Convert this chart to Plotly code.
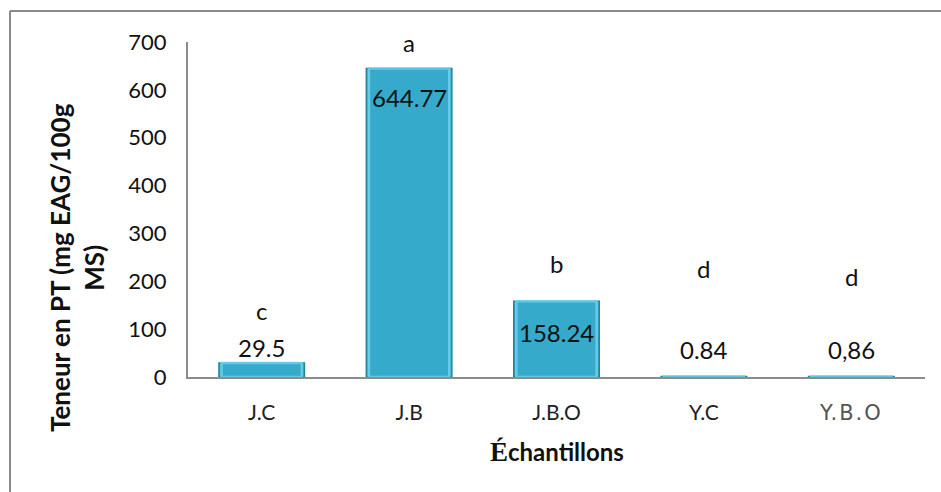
import plotly.graph_objects as go

# Phenolic content per sample
samples = ["J.C", "J.B", "J.B.O", "Y.C", "Y.B.O"]
values = [29.5, 644.77, 158.24, 0.84, 0.86]
value_labels = ["29.5", "644.77", "158.24", "0.84", "0,86"]
letters = ["c", "a", "b", "d", "d"]
letter_y = [138, 698, 238, 226, 211]
value_label_y = [61, 585, 92, 58, 58]
y_ticks = [0, 100, 200, 300, 400, 500, 600, 700]
tick_text = ["J.C", "J.B", "J.B.O", "Y.C",
             "<span style='font-family:DejaVu Sans;color:#555;"
             "letter-spacing:2px'>Y.B.O</span>"]

W, H = 941, 492
# plot area in pixels
PX0, PX1, PY0, PY1 = 188, 925, 42, 377


def px(x):
    return x / W


def py(y):
    return 1 - y / H


fig = go.Figure()
fig.add_trace(go.Bar(
    x=samples, y=values,
    marker=dict(color="#36AACA", line=dict(color="#27829E", width=1.5)),
    width=0.58,
    hoverinfo="x+y",
))
# lighter bevel highlight inside each bar
fig.add_trace(go.Bar(
    x=samples, y=values,
    marker=dict(color="rgba(0,0,0,0)", line=dict(color="rgba(110,210,236,0.85)", width=2.5)),
    width=0.545,
    hoverinfo="skip",
))

annotations = []
for s, t, yy in zip(samples, letters, letter_y):
    annotations.append(dict(x=s, y=yy, text=t, showarrow=False, xref="x", yref="y",
                            font=dict(family="Lato", size=24, color="#111")))
for s, t, yy in zip(samples, value_labels, value_label_y):
    annotations.append(dict(x=s, y=yy, text=t, showarrow=False, xref="x", yref="y",
                            font=dict(family="Lato", size=24, color="#111")))

# y-axis title
annotations.append(dict(
    x=px(77), y=py(268), xref="paper", yref="paper", xanchor="center", yanchor="middle",
    text="<b>Teneur en PT (mg EAG/100g<br>MS)</b>", textangle=-90, showarrow=False,
    font=dict(family="Lato", size=26, color="#111"), align="center",
))
# x-axis title
annotations.append(dict(
    x=px(557), y=py(452), xref="paper", yref="paper", xanchor="center", yanchor="middle",
    text="<span style='font-family:Liberation Serif;font-size:27px'>É</span>chantillons",
    showarrow=False, font=dict(family="Lato", size=24, color="#111", weight="bold"),
))

shapes = [
    # outer frame (top and left edges)
    dict(type="line", xref="paper", yref="paper", x0=px(10), x1=1.01,
         y0=py(11), y1=py(11), line=dict(color="#8A8A8A", width=2)),
    dict(type="line", xref="paper", yref="paper", x0=px(10), x1=px(10),
         y0=py(11), y1=-0.01, line=dict(color="#8A8A8A", width=2)),
]

fig.update_layout(
    width=W, height=H,
    margin=dict(l=0, r=0, t=0, b=0, autoexpand=False),
    paper_bgcolor="white", plot_bgcolor="white",
    showlegend=False, barmode="overlay", bargap=0.42,
    annotations=annotations, shapes=shapes,
    font=dict(family="Lato", color="#111"),
)
fig.update_xaxes(
    domain=[px(PX0), px(PX1)], automargin=False,
    tickvals=samples, ticktext=tick_text,
    showline=True, linecolor="#8C8C8C", linewidth=2,
    showgrid=False, ticks="", tickfont=dict(size=21, color="#222"),
    ticklabelstandoff=16,
)
fig.update_yaxes(
    domain=[py(PY1), py(PY0)], automargin=False,
    range=[0, 700], tickvals=y_ticks, showline=True, linecolor="#8C8C8C", linewidth=2,
    showgrid=False, ticks="", zeroline=False, tickfont=dict(size=22, color="#111"),
    ticklabelstandoff=15,
)

fig.write_html("out.html")
